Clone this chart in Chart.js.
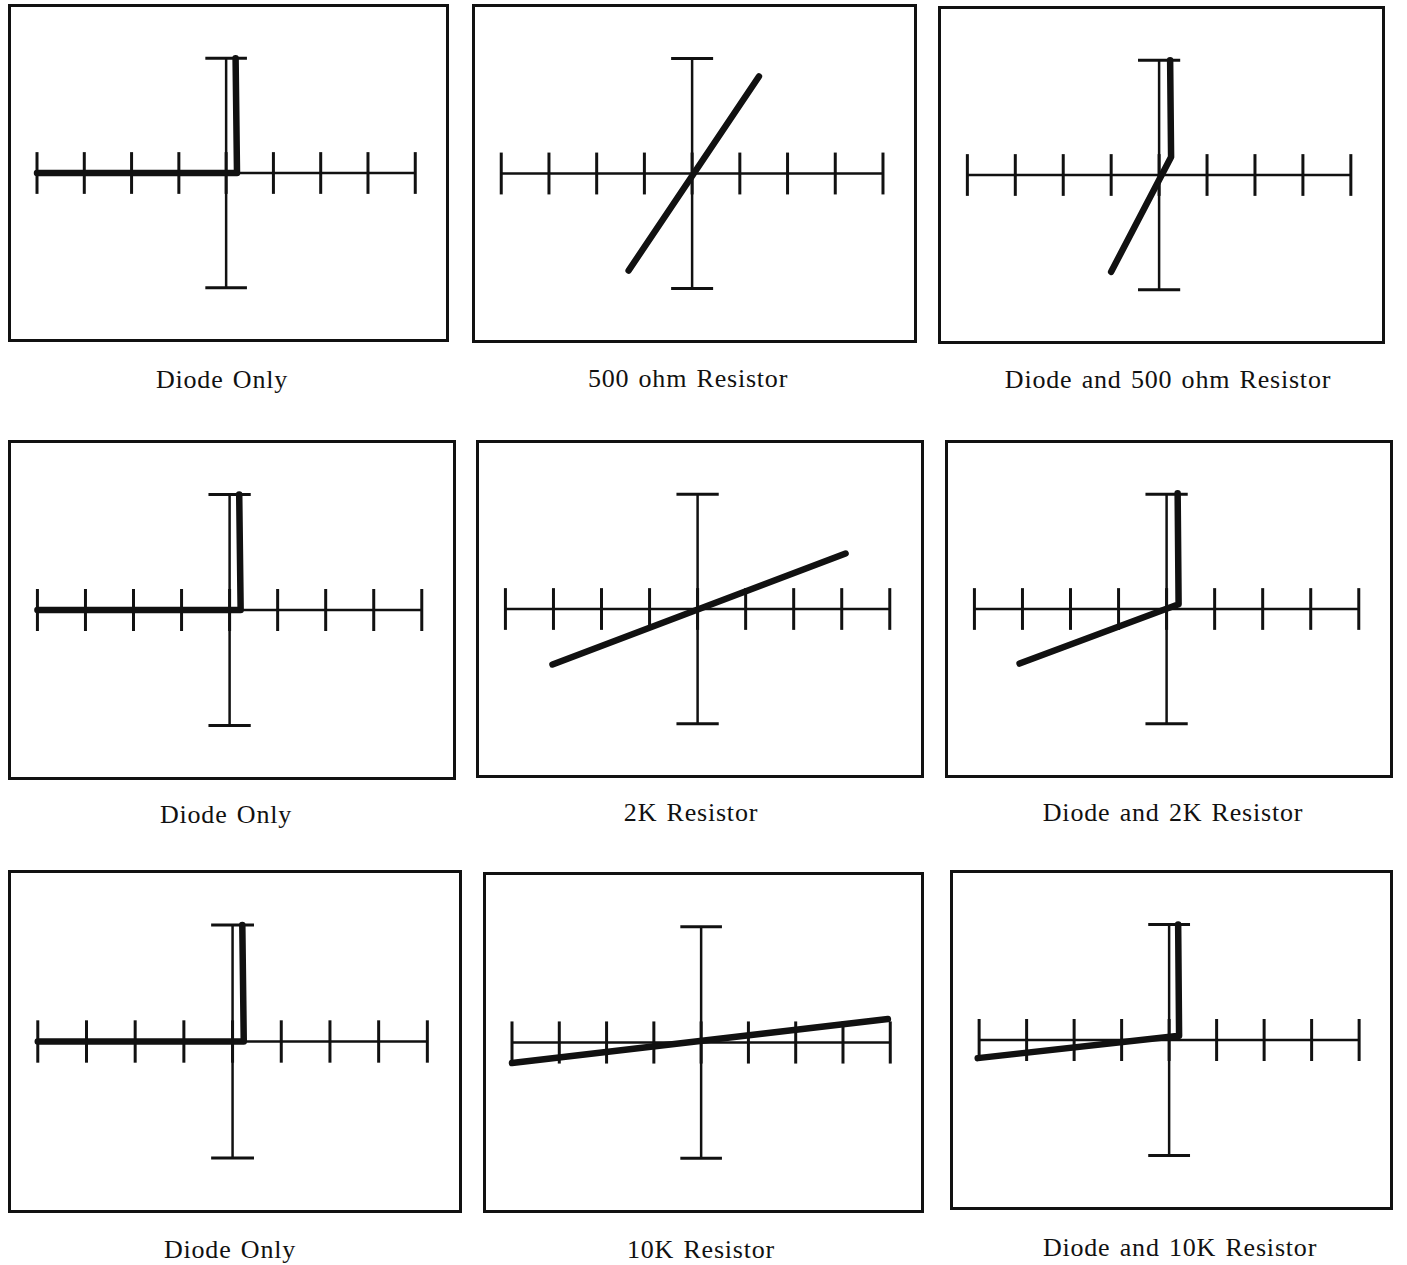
<!DOCTYPE html>
<html>
<head>
<meta charset="utf-8">
<title>Curve tracer displays</title>
<script src="https://cdn.jsdelivr.net/npm/chart.js@4.4.0/dist/chart.umd.min.js"></script>
<style>
  html, body { margin: 0; padding: 0; background: #fff; }
  body { position: relative; width: 1407px; height: 1265px; overflow: hidden; }
  .panel { position: absolute; border: 3px solid #111; box-sizing: border-box; background: #fff; }
  .caption { position: absolute; width: 420px; text-align: center; color: #111;
             font-family: 'Liberation Serif', 'DejaVu Serif', serif; font-size: 26px;
             letter-spacing: 0.8px; word-spacing: 2px; line-height: 30px; }
</style>
</head>
<body>
<script>
// ===== graticule of the screen (in divisions) =====
const graticuleTicks = [-4, -3, -2, -1, 0, 1, 2, 3, 4];
const verticalExtent = [-2.42, 2.42];

// ===== traces: x = voltage, y = current (divisions) =====
const diodeOnlyX = [-4, 0.23, 0.2];
const diodeOnlyY = [0, 0, 2.42];
const resistor500X = [-1.33, 1.4];
const resistor500Y = [-2.04, 2.04];
const diode500X = [-1.0, 0.25, 0.23];
const diode500Y = [-2.04, 0.38, 2.42];
const resistor2kX = [-3.02, 3.08];
const resistor2kY = [-1.17, 1.17];
const diode2kX = [-3.06, 0.25, 0.23];
const diode2kY = [-1.15, 0.1, 2.44];
const resistor10kX = [-4.0, 3.95];
const resistor10kY = [-0.43, 0.49];
const diode10kX = [-4.03, 0.21, 0.19];
const diode10kY = [-0.38, 0.09, 2.42];

const captions = [
    'Diode Only', '500 ohm Resistor', 'Diode and 500 ohm Resistor',
    'Diode Only', '2K Resistor', 'Diode and 2K Resistor',
    'Diode Only', '10K Resistor', 'Diode and 10K Resistor'
];
const traceX = [diodeOnlyX, resistor500X, diode500X, diodeOnlyX, resistor2kX, diode2kX, diodeOnlyX, resistor10kX, diode10kX];
const traceY = [diodeOnlyY, resistor500Y, diode500Y, diodeOnlyY, resistor2kY, diode2kY, diodeOnlyY, resistor10kY, diode10kY];

// page layout: box left, top, width, height, caption centre x, caption centre y
const panelLayout = [
    [8, 4, 441, 338, 222, 380], [472, 4, 445, 339, 688, 379], [938, 6, 447, 338, 1168, 380],
    [8, 440, 448, 340, 226, 815], [476, 440, 448, 338, 691, 813], [945, 440, 448, 338, 1173, 813],
    [8, 870, 454, 343, 230, 1250], [483, 872, 441, 341, 701, 1250], [950, 870, 443, 340, 1180, 1248]
];

const TICK_HALF = 0.44;
const INK = '#111';

function segment(x0, y0, x1, y1, width) {
    return { data: [{ x: x0, y: y0 }, { x: x1, y: y1 }], showLine: true, borderColor: INK,
             borderWidth: width, pointRadius: 0, borderCapStyle: 'butt', order: 2 };
}

function graticuleDatasets() {
    const first = graticuleTicks[0], last = graticuleTicks[graticuleTicks.length - 1];
    const sets = [segment(first, 0, last, 0, 2.5)];
    graticuleTicks.forEach(t => sets.push(segment(t, -TICK_HALF, t, TICK_HALF, 3)));
    sets.push(segment(0, verticalExtent[0], 0, verticalExtent[1], 2.5));
    verticalExtent.forEach(v => sets.push(segment(-TICK_HALF, v, TICK_HALF, v, 3)));
    return sets;
}

panelLayout.forEach(([left, top, w, h, cx, cy], i) => {
    const box = document.createElement('div');
    box.className = 'panel';
    Object.assign(box.style, { left: left + 'px', top: top + 'px', width: w + 'px', height: h + 'px' });
    const canvas = document.createElement('canvas');
    box.appendChild(canvas);
    document.body.appendChild(box);

    const cap = document.createElement('div');
    cap.className = 'caption';
    cap.textContent = captions[i];
    Object.assign(cap.style, { left: (cx - 210) + 'px', top: (cy - 15) + 'px' });
    document.body.appendChild(cap);

    const trace = {
        data: traceX[i].map((x, k) => ({ x: x, y: traceY[i][k] })),
        showLine: true, borderColor: INK, borderWidth: 6.5, pointRadius: 0,
        borderCapStyle: 'round', borderJoinStyle: 'round', tension: 0, order: 0
    };

    new Chart(canvas.getContext('2d'), {
        type: 'scatter',
        data: { datasets: [trace, ...graticuleDatasets()] },
        options: {
            responsive: true, maintainAspectRatio: false, animation: false,
            layout: { padding: 0 },
            plugins: { legend: { display: false }, tooltip: { enabled: false } },
            events: [],
            scales: {
                x: { type: 'linear', min: -4.55, max: 4.65, display: false },
                y: { type: 'linear', min: -3.5, max: 3.5, display: false }
            }
        }
    });
});
</script>
</body>
</html>
